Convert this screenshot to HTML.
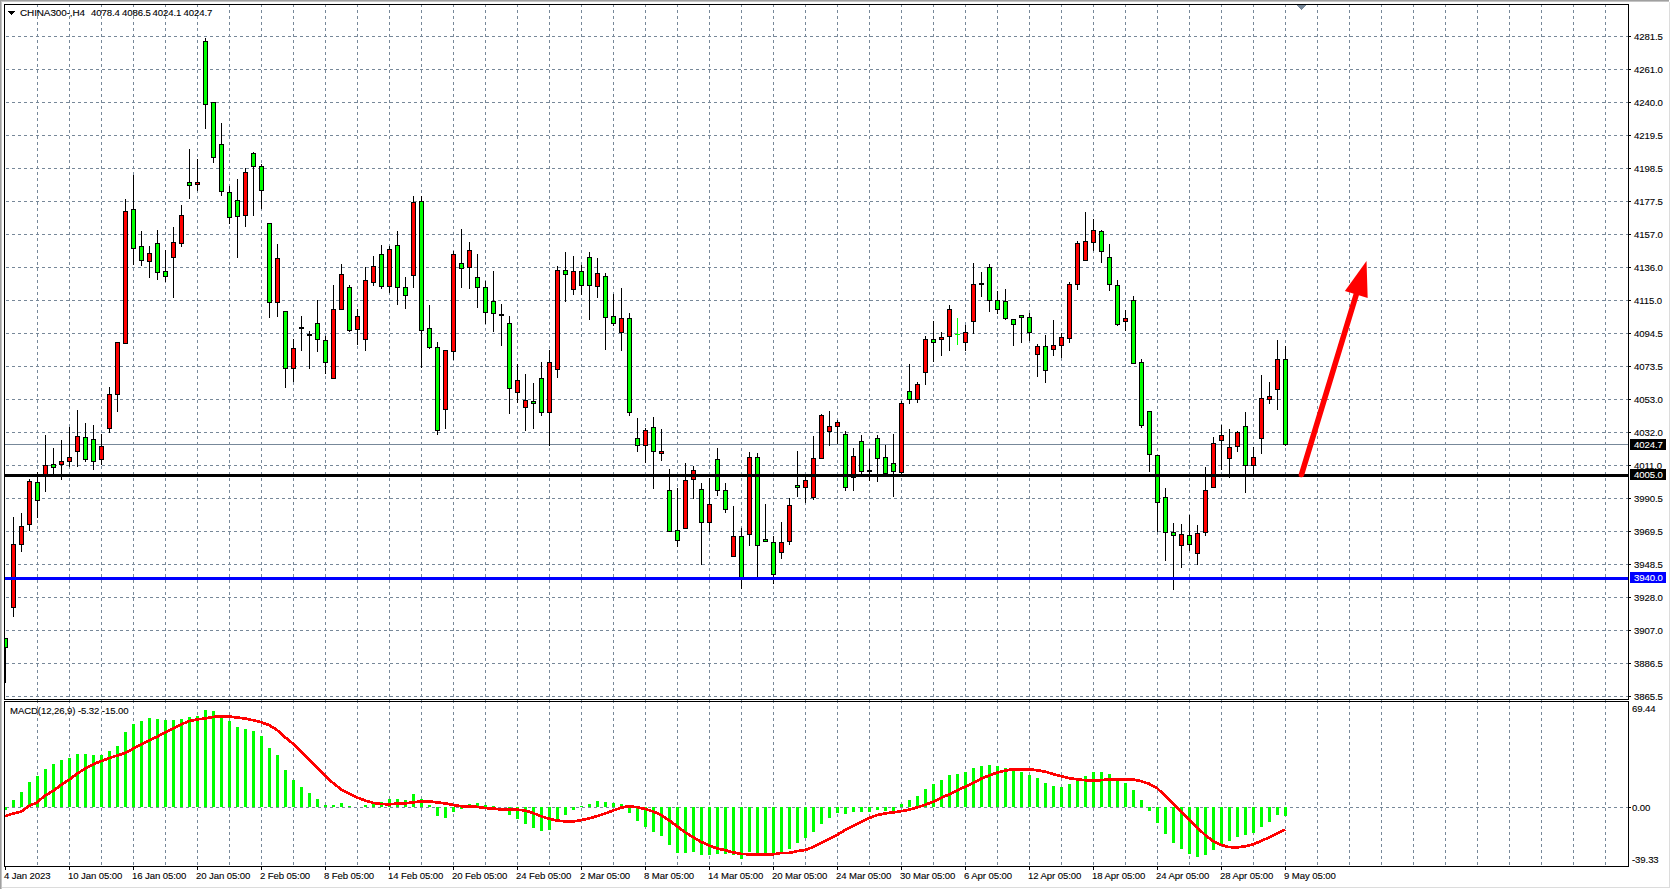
<!DOCTYPE html>
<html><head><meta charset="utf-8"><style>
html,body{margin:0;padding:0;background:#fff;overflow:hidden}
svg{display:block}
text{font-family:"Liberation Sans", sans-serif;}
</style></head><body>
<svg width="1671" height="889" viewBox="0 0 1671 889" shape-rendering="crispEdges">
<rect x="0" y="0" width="1671" height="889" fill="#ffffff"/>
<rect x="0" y="0" width="1669" height="1" fill="#a0a0a0"/>
<rect x="0" y="1" width="1669" height="1" fill="#c4c4c4"/>
<rect x="0" y="0" width="1" height="889" fill="#a0a0a0"/>
<rect x="1" y="1" width="1" height="889" fill="#c4c4c4"/>
<rect x="2" y="887" width="1668" height="1" fill="#dcdcdc"/>
<rect x="1669" y="2" width="1" height="886" fill="#dcdcdc"/>
<path d="M37.5 4V699 M69.5 4V699 M101.5 4V699 M133.5 4V699 M165.5 4V699 M197.5 4V699 M229.5 4V699 M261.5 4V699 M293.5 4V699 M325.5 4V699 M357.5 4V699 M389.5 4V699 M421.5 4V699 M453.5 4V699 M485.5 4V699 M517.5 4V699 M549.5 4V699 M581.5 4V699 M613.5 4V699 M645.5 4V699 M677.5 4V699 M709.5 4V699 M741.5 4V699 M773.5 4V699 M805.5 4V699 M837.5 4V699 M869.5 4V699 M901.5 4V699 M933.5 4V699 M965.5 4V699 M997.5 4V699 M1029.5 4V699 M1061.5 4V699 M1093.5 4V699 M1125.5 4V699 M1157.5 4V699 M1189.5 4V699 M1221.5 4V699 M1253.5 4V699 M1285.5 4V699 M1317.5 4V699 M1349.5 4V699 M1381.5 4V699 M1413.5 4V699 M1445.5 4V699 M1477.5 4V699 M1509.5 4V699 M1541.5 4V699 M1573.5 4V699 M1605.5 4V699" stroke="#778899" stroke-width="1" stroke-dasharray="3 3" fill="none"/>
<path d="M37.5 700V866 M69.5 700V866 M101.5 700V866 M133.5 700V866 M165.5 700V866 M197.5 700V866 M229.5 700V866 M261.5 700V866 M293.5 700V866 M325.5 700V866 M357.5 700V866 M389.5 700V866 M421.5 700V866 M453.5 700V866 M485.5 700V866 M517.5 700V866 M549.5 700V866 M581.5 700V866 M613.5 700V866 M645.5 700V866 M677.5 700V866 M709.5 700V866 M741.5 700V866 M773.5 700V866 M805.5 700V866 M837.5 700V866 M869.5 700V866 M901.5 700V866 M933.5 700V866 M965.5 700V866 M997.5 700V866 M1029.5 700V866 M1061.5 700V866 M1093.5 700V866 M1125.5 700V866 M1157.5 700V866 M1189.5 700V866 M1221.5 700V866 M1253.5 700V866 M1285.5 700V866 M1317.5 700V866 M1349.5 700V866 M1381.5 700V866 M1413.5 700V866 M1445.5 700V866 M1477.5 700V866 M1509.5 700V866 M1541.5 700V866 M1573.5 700V866 M1605.5 700V866" stroke="#778899" stroke-width="1" stroke-dasharray="3 3" stroke-dashoffset="0" fill="none"/>
<path d="M6 36.5H1628 M6 69.5H1628 M6 102.5H1628 M6 135.5H1628 M6 168.5H1628 M6 201.5H1628 M6 234.5H1628 M6 267.5H1628 M6 300.5H1628 M6 333.5H1628 M6 366.5H1628 M6 399.5H1628 M6 432.5H1628 M6 465.5H1628 M6 498.5H1628 M6 531.5H1628 M6 564.5H1628 M6 597.5H1628 M6 630.5H1628 M6 663.5H1628 M6 696.5H1628" stroke="#778899" stroke-width="1" stroke-dasharray="3 3" fill="none"/>
<path d="M8 11H15L11.5 15Z" fill="#000"/>
<text x="20" y="16" fill="#000" stroke="#000" stroke-width="0.1" text-anchor="start" letter-spacing="-0.1" font-size="9.6" textLength="65" lengthAdjust="spacingAndGlyphs">CHINA300-,H4</text>
<text x="91" y="16" fill="#000" stroke="#000" stroke-width="0.1" text-anchor="start" letter-spacing="-0.1" font-size="9.6">4078.4</text>
<text x="122" y="16" fill="#000" stroke="#000" stroke-width="0.1" text-anchor="start" letter-spacing="-0.1" font-size="9.6">4086.5</text>
<text x="152.5" y="16" fill="#000" stroke="#000" stroke-width="0.1" text-anchor="start" letter-spacing="-0.1" font-size="9.6">4024.1</text>
<text x="183.5" y="16" fill="#000" stroke="#000" stroke-width="0.1" text-anchor="start" letter-spacing="-0.1" font-size="9.6">4024.7</text>
<path d="M1297 5H1306L1301.5 10Z" fill="#778899"/>
<rect x="5" y="444" width="1623" height="1" fill="#778899"/>
<defs><clipPath id="ca"><rect x="5" y="5" width="1623" height="694"/></clipPath></defs><g clip-path="url(#ca)">
<rect x="5" y="638" width="1" height="45" fill="#000"/>
<rect x="3" y="638" width="5" height="10" fill="#000"/>
<rect x="4" y="639" width="3" height="8" fill="#00ff00"/>
<rect x="13" y="517" width="1" height="100" fill="#000"/>
<rect x="11" y="544" width="5" height="64" fill="#000"/>
<rect x="12" y="545" width="3" height="62" fill="#ff0000"/>
<rect x="21" y="513" width="1" height="39" fill="#000"/>
<rect x="19" y="526" width="5" height="19" fill="#000"/>
<rect x="20" y="527" width="3" height="17" fill="#ff0000"/>
<rect x="29" y="479" width="1" height="52" fill="#000"/>
<rect x="27" y="481" width="5" height="44" fill="#000"/>
<rect x="28" y="482" width="3" height="42" fill="#ff0000"/>
<rect x="37" y="472" width="1" height="46" fill="#000"/>
<rect x="35" y="482" width="5" height="19" fill="#000"/>
<rect x="36" y="483" width="3" height="17" fill="#00ff00"/>
<rect x="45" y="435" width="1" height="57" fill="#000"/>
<rect x="43" y="465" width="5" height="10" fill="#000"/>
<rect x="44" y="466" width="3" height="8" fill="#ff0000"/>
<rect x="53" y="448" width="1" height="26" fill="#000"/>
<rect x="51" y="464" width="5" height="4" fill="#000"/>
<rect x="52" y="465" width="3" height="2" fill="#00ff00"/>
<rect x="61" y="440" width="1" height="40" fill="#000"/>
<rect x="59" y="461" width="5" height="4" fill="#000"/>
<rect x="60" y="462" width="3" height="2" fill="#ff0000"/>
<rect x="69" y="427" width="1" height="40" fill="#000"/>
<rect x="67" y="457" width="5" height="5" fill="#000"/>
<rect x="68" y="458" width="3" height="3" fill="#ff0000"/>
<rect x="77" y="410" width="1" height="57" fill="#000"/>
<rect x="75" y="436" width="5" height="16" fill="#000"/>
<rect x="76" y="437" width="3" height="14" fill="#ff0000"/>
<rect x="85" y="423" width="1" height="39" fill="#000"/>
<rect x="83" y="437" width="5" height="23" fill="#000"/>
<rect x="84" y="438" width="3" height="21" fill="#00ff00"/>
<rect x="93" y="425" width="1" height="45" fill="#000"/>
<rect x="91" y="439" width="5" height="23" fill="#000"/>
<rect x="92" y="440" width="3" height="21" fill="#00ff00"/>
<rect x="101" y="434" width="1" height="31" fill="#000"/>
<rect x="99" y="446" width="5" height="14" fill="#000"/>
<rect x="100" y="447" width="3" height="12" fill="#ff0000"/>
<rect x="109" y="387" width="1" height="46" fill="#000"/>
<rect x="107" y="394" width="5" height="35" fill="#000"/>
<rect x="108" y="395" width="3" height="33" fill="#ff0000"/>
<rect x="117" y="342" width="1" height="70" fill="#000"/>
<rect x="115" y="342" width="5" height="53" fill="#000"/>
<rect x="116" y="343" width="3" height="51" fill="#ff0000"/>
<rect x="125" y="199" width="1" height="145" fill="#000"/>
<rect x="123" y="211" width="5" height="133" fill="#000"/>
<rect x="124" y="212" width="3" height="131" fill="#ff0000"/>
<rect x="133" y="175" width="1" height="90" fill="#000"/>
<rect x="131" y="209" width="5" height="40" fill="#000"/>
<rect x="132" y="210" width="3" height="38" fill="#00ff00"/>
<rect x="141" y="231" width="1" height="35" fill="#000"/>
<rect x="139" y="246" width="5" height="15" fill="#000"/>
<rect x="140" y="247" width="3" height="13" fill="#00ff00"/>
<rect x="149" y="246" width="1" height="32" fill="#000"/>
<rect x="147" y="253" width="5" height="9" fill="#000"/>
<rect x="148" y="254" width="3" height="7" fill="#ff0000"/>
<rect x="157" y="230" width="1" height="50" fill="#000"/>
<rect x="155" y="243" width="5" height="30" fill="#000"/>
<rect x="156" y="244" width="3" height="28" fill="#00ff00"/>
<rect x="165" y="250" width="1" height="32" fill="#000"/>
<rect x="163" y="271" width="5" height="6" fill="#000"/>
<rect x="164" y="272" width="3" height="4" fill="#00ff00"/>
<rect x="173" y="227" width="1" height="71" fill="#000"/>
<rect x="171" y="242" width="5" height="16" fill="#000"/>
<rect x="172" y="243" width="3" height="14" fill="#ff0000"/>
<rect x="181" y="205" width="1" height="42" fill="#000"/>
<rect x="179" y="215" width="5" height="29" fill="#000"/>
<rect x="180" y="216" width="3" height="27" fill="#ff0000"/>
<rect x="189" y="149" width="1" height="50" fill="#000"/>
<rect x="187" y="182" width="5" height="4" fill="#000"/>
<rect x="188" y="183" width="3" height="2" fill="#00ff00"/>
<rect x="197" y="159" width="1" height="32" fill="#000"/>
<rect x="195" y="182" width="5" height="3" fill="#000"/>
<rect x="196" y="183" width="3" height="1" fill="#ff0000"/>
<rect x="205" y="38" width="1" height="91" fill="#000"/>
<rect x="203" y="41" width="5" height="64" fill="#000"/>
<rect x="204" y="42" width="3" height="62" fill="#00ff00"/>
<rect x="213" y="102" width="1" height="61" fill="#000"/>
<rect x="211" y="102" width="5" height="56" fill="#000"/>
<rect x="212" y="103" width="3" height="54" fill="#00ff00"/>
<rect x="221" y="123" width="1" height="73" fill="#000"/>
<rect x="219" y="144" width="5" height="48" fill="#000"/>
<rect x="220" y="145" width="3" height="46" fill="#00ff00"/>
<rect x="229" y="186" width="1" height="38" fill="#000"/>
<rect x="227" y="192" width="5" height="26" fill="#000"/>
<rect x="228" y="193" width="3" height="24" fill="#00ff00"/>
<rect x="237" y="179" width="1" height="79" fill="#000"/>
<rect x="235" y="200" width="5" height="17" fill="#000"/>
<rect x="236" y="201" width="3" height="15" fill="#00ff00"/>
<rect x="245" y="168" width="1" height="59" fill="#000"/>
<rect x="243" y="172" width="5" height="44" fill="#000"/>
<rect x="244" y="173" width="3" height="42" fill="#ff0000"/>
<rect x="253" y="152" width="1" height="64" fill="#000"/>
<rect x="251" y="153" width="5" height="14" fill="#000"/>
<rect x="252" y="154" width="3" height="12" fill="#00ff00"/>
<rect x="261" y="164" width="1" height="45" fill="#000"/>
<rect x="259" y="166" width="5" height="25" fill="#000"/>
<rect x="260" y="167" width="3" height="23" fill="#00ff00"/>
<rect x="269" y="223" width="1" height="95" fill="#000"/>
<rect x="267" y="223" width="5" height="80" fill="#000"/>
<rect x="268" y="224" width="3" height="78" fill="#00ff00"/>
<rect x="277" y="244" width="1" height="73" fill="#000"/>
<rect x="275" y="258" width="5" height="45" fill="#000"/>
<rect x="276" y="259" width="3" height="43" fill="#ff0000"/>
<rect x="285" y="311" width="1" height="77" fill="#000"/>
<rect x="283" y="311" width="5" height="58" fill="#000"/>
<rect x="284" y="312" width="3" height="56" fill="#00ff00"/>
<rect x="293" y="339" width="1" height="43" fill="#000"/>
<rect x="291" y="348" width="5" height="21" fill="#000"/>
<rect x="292" y="349" width="3" height="19" fill="#ff0000"/>
<rect x="301" y="316" width="1" height="35" fill="#000"/>
<rect x="299" y="327" width="5" height="2" fill="#000"/>
<rect x="309" y="331" width="1" height="38" fill="#000"/>
<rect x="307" y="334" width="5" height="2" fill="#000"/>
<rect x="317" y="300" width="1" height="52" fill="#000"/>
<rect x="315" y="323" width="5" height="17" fill="#000"/>
<rect x="316" y="324" width="3" height="15" fill="#00ff00"/>
<rect x="325" y="336" width="1" height="38" fill="#000"/>
<rect x="323" y="340" width="5" height="23" fill="#000"/>
<rect x="324" y="341" width="3" height="21" fill="#00ff00"/>
<rect x="333" y="285" width="1" height="94" fill="#000"/>
<rect x="331" y="309" width="5" height="70" fill="#000"/>
<rect x="332" y="310" width="3" height="68" fill="#ff0000"/>
<rect x="341" y="264" width="1" height="46" fill="#000"/>
<rect x="339" y="274" width="5" height="36" fill="#000"/>
<rect x="340" y="275" width="3" height="34" fill="#ff0000"/>
<rect x="349" y="285" width="1" height="47" fill="#000"/>
<rect x="347" y="287" width="5" height="44" fill="#000"/>
<rect x="348" y="288" width="3" height="42" fill="#00ff00"/>
<rect x="357" y="309" width="1" height="36" fill="#000"/>
<rect x="355" y="316" width="5" height="14" fill="#000"/>
<rect x="356" y="317" width="3" height="12" fill="#ff0000"/>
<rect x="365" y="267" width="1" height="84" fill="#000"/>
<rect x="363" y="280" width="5" height="60" fill="#000"/>
<rect x="364" y="281" width="3" height="58" fill="#ff0000"/>
<rect x="373" y="256" width="1" height="30" fill="#000"/>
<rect x="371" y="266" width="5" height="17" fill="#000"/>
<rect x="372" y="267" width="3" height="15" fill="#ff0000"/>
<rect x="381" y="245" width="1" height="44" fill="#000"/>
<rect x="379" y="254" width="5" height="33" fill="#000"/>
<rect x="380" y="255" width="3" height="31" fill="#00ff00"/>
<rect x="389" y="246" width="1" height="47" fill="#000"/>
<rect x="387" y="249" width="5" height="38" fill="#000"/>
<rect x="388" y="250" width="3" height="36" fill="#ff0000"/>
<rect x="397" y="231" width="1" height="74" fill="#000"/>
<rect x="395" y="245" width="5" height="43" fill="#000"/>
<rect x="396" y="246" width="3" height="41" fill="#00ff00"/>
<rect x="405" y="277" width="1" height="32" fill="#000"/>
<rect x="403" y="287" width="5" height="9" fill="#000"/>
<rect x="404" y="288" width="3" height="7" fill="#00ff00"/>
<rect x="413" y="196" width="1" height="92" fill="#000"/>
<rect x="411" y="202" width="5" height="74" fill="#000"/>
<rect x="412" y="203" width="3" height="72" fill="#ff0000"/>
<rect x="421" y="196" width="1" height="172" fill="#000"/>
<rect x="419" y="201" width="5" height="130" fill="#000"/>
<rect x="420" y="202" width="3" height="128" fill="#00ff00"/>
<rect x="429" y="305" width="1" height="44" fill="#000"/>
<rect x="427" y="328" width="5" height="20" fill="#000"/>
<rect x="428" y="329" width="3" height="18" fill="#00ff00"/>
<rect x="437" y="342" width="1" height="93" fill="#000"/>
<rect x="435" y="347" width="5" height="84" fill="#000"/>
<rect x="436" y="348" width="3" height="82" fill="#00ff00"/>
<rect x="445" y="350" width="1" height="79" fill="#000"/>
<rect x="443" y="350" width="5" height="60" fill="#000"/>
<rect x="444" y="351" width="3" height="58" fill="#ff0000"/>
<rect x="453" y="251" width="1" height="109" fill="#000"/>
<rect x="451" y="254" width="5" height="98" fill="#000"/>
<rect x="452" y="255" width="3" height="96" fill="#ff0000"/>
<rect x="461" y="229" width="1" height="59" fill="#000"/>
<rect x="459" y="263" width="5" height="6" fill="#000"/>
<rect x="460" y="264" width="3" height="4" fill="#00ff00"/>
<rect x="469" y="242" width="1" height="47" fill="#000"/>
<rect x="467" y="250" width="5" height="18" fill="#000"/>
<rect x="468" y="251" width="3" height="16" fill="#ff0000"/>
<rect x="477" y="254" width="1" height="54" fill="#000"/>
<rect x="475" y="277" width="5" height="11" fill="#000"/>
<rect x="476" y="278" width="3" height="9" fill="#00ff00"/>
<rect x="485" y="281" width="1" height="43" fill="#000"/>
<rect x="483" y="287" width="5" height="26" fill="#000"/>
<rect x="484" y="288" width="3" height="24" fill="#00ff00"/>
<rect x="493" y="271" width="1" height="61" fill="#000"/>
<rect x="491" y="301" width="5" height="13" fill="#000"/>
<rect x="492" y="302" width="3" height="11" fill="#00ff00"/>
<rect x="501" y="304" width="1" height="42" fill="#000"/>
<rect x="499" y="314" width="5" height="2" fill="#000"/>
<rect x="509" y="316" width="1" height="98" fill="#000"/>
<rect x="507" y="323" width="5" height="66" fill="#000"/>
<rect x="508" y="324" width="3" height="64" fill="#00ff00"/>
<rect x="517" y="364" width="1" height="39" fill="#000"/>
<rect x="515" y="380" width="5" height="13" fill="#000"/>
<rect x="516" y="381" width="3" height="11" fill="#ff0000"/>
<rect x="525" y="374" width="1" height="57" fill="#000"/>
<rect x="523" y="400" width="5" height="8" fill="#000"/>
<rect x="524" y="401" width="3" height="6" fill="#ff0000"/>
<rect x="533" y="383" width="1" height="46" fill="#000"/>
<rect x="531" y="401" width="5" height="3" fill="#000"/>
<rect x="532" y="402" width="3" height="1" fill="#00ff00"/>
<rect x="541" y="362" width="1" height="54" fill="#000"/>
<rect x="539" y="378" width="5" height="35" fill="#000"/>
<rect x="540" y="379" width="3" height="33" fill="#00ff00"/>
<rect x="549" y="350" width="1" height="96" fill="#000"/>
<rect x="547" y="362" width="5" height="51" fill="#000"/>
<rect x="548" y="363" width="3" height="49" fill="#ff0000"/>
<rect x="557" y="266" width="1" height="112" fill="#000"/>
<rect x="555" y="270" width="5" height="100" fill="#000"/>
<rect x="556" y="271" width="3" height="98" fill="#ff0000"/>
<rect x="565" y="252" width="1" height="50" fill="#000"/>
<rect x="563" y="270" width="5" height="5" fill="#000"/>
<rect x="564" y="271" width="3" height="3" fill="#00ff00"/>
<rect x="573" y="256" width="1" height="39" fill="#000"/>
<rect x="571" y="271" width="5" height="19" fill="#000"/>
<rect x="572" y="272" width="3" height="17" fill="#ff0000"/>
<rect x="581" y="265" width="1" height="30" fill="#000"/>
<rect x="579" y="271" width="5" height="15" fill="#000"/>
<rect x="580" y="272" width="3" height="13" fill="#00ff00"/>
<rect x="589" y="252" width="1" height="68" fill="#000"/>
<rect x="587" y="257" width="5" height="29" fill="#000"/>
<rect x="588" y="258" width="3" height="27" fill="#00ff00"/>
<rect x="597" y="258" width="1" height="40" fill="#000"/>
<rect x="595" y="273" width="5" height="14" fill="#000"/>
<rect x="596" y="274" width="3" height="12" fill="#ff0000"/>
<rect x="605" y="273" width="1" height="77" fill="#000"/>
<rect x="603" y="276" width="5" height="42" fill="#000"/>
<rect x="604" y="277" width="3" height="40" fill="#00ff00"/>
<rect x="613" y="294" width="1" height="32" fill="#000"/>
<rect x="611" y="316" width="5" height="8" fill="#000"/>
<rect x="612" y="317" width="3" height="6" fill="#00ff00"/>
<rect x="621" y="288" width="1" height="63" fill="#000"/>
<rect x="619" y="318" width="5" height="15" fill="#000"/>
<rect x="620" y="319" width="3" height="13" fill="#ff0000"/>
<rect x="629" y="313" width="1" height="103" fill="#000"/>
<rect x="627" y="318" width="5" height="95" fill="#000"/>
<rect x="628" y="319" width="3" height="93" fill="#00ff00"/>
<rect x="637" y="418" width="1" height="34" fill="#000"/>
<rect x="635" y="438" width="5" height="8" fill="#000"/>
<rect x="636" y="439" width="3" height="6" fill="#00ff00"/>
<rect x="645" y="428" width="1" height="35" fill="#000"/>
<rect x="643" y="430" width="5" height="16" fill="#000"/>
<rect x="644" y="431" width="3" height="14" fill="#ff0000"/>
<rect x="653" y="417" width="1" height="72" fill="#000"/>
<rect x="651" y="427" width="5" height="25" fill="#000"/>
<rect x="652" y="428" width="3" height="23" fill="#00ff00"/>
<rect x="661" y="429" width="1" height="32" fill="#000"/>
<rect x="659" y="451" width="5" height="3" fill="#000"/>
<rect x="660" y="452" width="3" height="1" fill="#ff0000"/>
<rect x="669" y="469" width="1" height="63" fill="#000"/>
<rect x="667" y="490" width="5" height="42" fill="#000"/>
<rect x="668" y="491" width="3" height="40" fill="#00ff00"/>
<rect x="677" y="488" width="1" height="59" fill="#000"/>
<rect x="675" y="530" width="5" height="11" fill="#000"/>
<rect x="676" y="531" width="3" height="9" fill="#00ff00"/>
<rect x="685" y="463" width="1" height="66" fill="#000"/>
<rect x="683" y="480" width="5" height="49" fill="#000"/>
<rect x="684" y="481" width="3" height="47" fill="#ff0000"/>
<rect x="693" y="466" width="1" height="33" fill="#000"/>
<rect x="691" y="470" width="5" height="10" fill="#000"/>
<rect x="692" y="471" width="3" height="8" fill="#ff0000"/>
<rect x="701" y="483" width="1" height="82" fill="#000"/>
<rect x="699" y="489" width="5" height="34" fill="#000"/>
<rect x="700" y="490" width="3" height="32" fill="#00ff00"/>
<rect x="709" y="478" width="1" height="54" fill="#000"/>
<rect x="707" y="504" width="5" height="19" fill="#000"/>
<rect x="708" y="505" width="3" height="17" fill="#ff0000"/>
<rect x="717" y="448" width="1" height="48" fill="#000"/>
<rect x="715" y="459" width="5" height="32" fill="#000"/>
<rect x="716" y="460" width="3" height="30" fill="#00ff00"/>
<rect x="725" y="483" width="1" height="30" fill="#000"/>
<rect x="723" y="490" width="5" height="20" fill="#000"/>
<rect x="724" y="491" width="3" height="18" fill="#00ff00"/>
<rect x="733" y="506" width="1" height="51" fill="#000"/>
<rect x="731" y="536" width="5" height="21" fill="#000"/>
<rect x="732" y="537" width="3" height="19" fill="#ff0000"/>
<rect x="741" y="528" width="1" height="61" fill="#000"/>
<rect x="739" y="536" width="5" height="42" fill="#000"/>
<rect x="740" y="537" width="3" height="40" fill="#00ff00"/>
<rect x="749" y="452" width="1" height="94" fill="#000"/>
<rect x="747" y="457" width="5" height="78" fill="#000"/>
<rect x="748" y="458" width="3" height="76" fill="#ff0000"/>
<rect x="757" y="453" width="1" height="125" fill="#000"/>
<rect x="755" y="457" width="5" height="89" fill="#000"/>
<rect x="756" y="458" width="3" height="87" fill="#00ff00"/>
<rect x="765" y="504" width="1" height="38" fill="#000"/>
<rect x="763" y="539" width="5" height="3" fill="#000"/>
<rect x="764" y="540" width="3" height="1" fill="#00ff00"/>
<rect x="773" y="536" width="1" height="48" fill="#000"/>
<rect x="771" y="542" width="5" height="33" fill="#000"/>
<rect x="772" y="543" width="3" height="31" fill="#00ff00"/>
<rect x="781" y="522" width="1" height="37" fill="#000"/>
<rect x="779" y="542" width="5" height="11" fill="#000"/>
<rect x="780" y="543" width="3" height="9" fill="#ff0000"/>
<rect x="789" y="498" width="1" height="47" fill="#000"/>
<rect x="787" y="505" width="5" height="37" fill="#000"/>
<rect x="788" y="506" width="3" height="35" fill="#ff0000"/>
<rect x="797" y="451" width="1" height="46" fill="#000"/>
<rect x="795" y="485" width="5" height="3" fill="#000"/>
<rect x="796" y="486" width="3" height="1" fill="#00ff00"/>
<rect x="805" y="475" width="1" height="28" fill="#000"/>
<rect x="803" y="480" width="5" height="8" fill="#000"/>
<rect x="804" y="481" width="3" height="6" fill="#ff0000"/>
<rect x="813" y="436" width="1" height="64" fill="#000"/>
<rect x="811" y="458" width="5" height="40" fill="#000"/>
<rect x="812" y="459" width="3" height="38" fill="#ff0000"/>
<rect x="821" y="414" width="1" height="45" fill="#000"/>
<rect x="819" y="415" width="5" height="44" fill="#000"/>
<rect x="820" y="416" width="3" height="42" fill="#ff0000"/>
<rect x="829" y="411" width="1" height="35" fill="#000"/>
<rect x="827" y="426" width="5" height="6" fill="#000"/>
<rect x="828" y="427" width="3" height="4" fill="#ff0000"/>
<rect x="837" y="420" width="1" height="24" fill="#000"/>
<rect x="835" y="422" width="5" height="5" fill="#000"/>
<rect x="836" y="423" width="3" height="3" fill="#ff0000"/>
<rect x="845" y="431" width="1" height="60" fill="#000"/>
<rect x="843" y="434" width="5" height="54" fill="#000"/>
<rect x="844" y="435" width="3" height="52" fill="#00ff00"/>
<rect x="853" y="448" width="1" height="43" fill="#000"/>
<rect x="851" y="456" width="5" height="22" fill="#000"/>
<rect x="852" y="457" width="3" height="20" fill="#ff0000"/>
<rect x="861" y="435" width="1" height="40" fill="#000"/>
<rect x="859" y="441" width="5" height="31" fill="#000"/>
<rect x="860" y="442" width="3" height="29" fill="#00ff00"/>
<rect x="869" y="449" width="1" height="32" fill="#000"/>
<rect x="867" y="470" width="5" height="2" fill="#000"/>
<rect x="877" y="435" width="1" height="47" fill="#000"/>
<rect x="875" y="438" width="5" height="21" fill="#000"/>
<rect x="876" y="439" width="3" height="19" fill="#00ff00"/>
<rect x="885" y="445" width="1" height="30" fill="#000"/>
<rect x="883" y="457" width="5" height="17" fill="#000"/>
<rect x="884" y="458" width="3" height="15" fill="#00ff00"/>
<rect x="893" y="434" width="1" height="63" fill="#000"/>
<rect x="891" y="463" width="5" height="9" fill="#000"/>
<rect x="892" y="464" width="3" height="7" fill="#00ff00"/>
<rect x="901" y="401" width="1" height="73" fill="#000"/>
<rect x="899" y="403" width="5" height="70" fill="#000"/>
<rect x="900" y="404" width="3" height="68" fill="#ff0000"/>
<rect x="909" y="364" width="1" height="40" fill="#000"/>
<rect x="907" y="391" width="5" height="9" fill="#000"/>
<rect x="908" y="392" width="3" height="7" fill="#00ff00"/>
<rect x="917" y="382" width="1" height="21" fill="#000"/>
<rect x="915" y="384" width="5" height="16" fill="#000"/>
<rect x="916" y="385" width="3" height="14" fill="#ff0000"/>
<rect x="925" y="336" width="1" height="49" fill="#000"/>
<rect x="923" y="339" width="5" height="34" fill="#000"/>
<rect x="924" y="340" width="3" height="32" fill="#ff0000"/>
<rect x="933" y="321" width="1" height="41" fill="#000"/>
<rect x="931" y="339" width="5" height="4" fill="#000"/>
<rect x="932" y="340" width="3" height="2" fill="#00ff00"/>
<rect x="941" y="332" width="1" height="24" fill="#000"/>
<rect x="939" y="337" width="5" height="3" fill="#000"/>
<rect x="940" y="338" width="3" height="1" fill="#ff0000"/>
<rect x="949" y="305" width="1" height="46" fill="#000"/>
<rect x="947" y="309" width="5" height="28" fill="#000"/>
<rect x="948" y="310" width="3" height="26" fill="#ff0000"/>
<rect x="957" y="318" width="1" height="27" fill="#00ff00"/>
<rect x="955" y="334" width="5" height="1" fill="#00ff00"/>
<rect x="965" y="325" width="1" height="26" fill="#000"/>
<rect x="963" y="332" width="5" height="11" fill="#000"/>
<rect x="964" y="333" width="3" height="9" fill="#ff0000"/>
<rect x="973" y="263" width="1" height="71" fill="#000"/>
<rect x="971" y="284" width="5" height="38" fill="#000"/>
<rect x="972" y="285" width="3" height="36" fill="#ff0000"/>
<rect x="981" y="272" width="1" height="25" fill="#000"/>
<rect x="979" y="283" width="5" height="2" fill="#000"/>
<rect x="989" y="264" width="1" height="48" fill="#000"/>
<rect x="987" y="267" width="5" height="34" fill="#000"/>
<rect x="988" y="268" width="3" height="32" fill="#00ff00"/>
<rect x="997" y="291" width="1" height="23" fill="#000"/>
<rect x="995" y="300" width="5" height="10" fill="#000"/>
<rect x="996" y="301" width="3" height="8" fill="#00ff00"/>
<rect x="1005" y="289" width="1" height="31" fill="#000"/>
<rect x="1003" y="301" width="5" height="18" fill="#000"/>
<rect x="1004" y="302" width="3" height="16" fill="#00ff00"/>
<rect x="1013" y="319" width="1" height="27" fill="#000"/>
<rect x="1011" y="319" width="5" height="6" fill="#000"/>
<rect x="1012" y="320" width="3" height="4" fill="#00ff00"/>
<rect x="1021" y="315" width="1" height="28" fill="#000"/>
<rect x="1019" y="315" width="5" height="3" fill="#000"/>
<rect x="1020" y="316" width="3" height="1" fill="#00ff00"/>
<rect x="1029" y="313" width="1" height="28" fill="#000"/>
<rect x="1027" y="317" width="5" height="16" fill="#000"/>
<rect x="1028" y="318" width="3" height="14" fill="#00ff00"/>
<rect x="1037" y="344" width="1" height="33" fill="#000"/>
<rect x="1035" y="346" width="5" height="9" fill="#000"/>
<rect x="1036" y="347" width="3" height="7" fill="#ff0000"/>
<rect x="1045" y="335" width="1" height="48" fill="#000"/>
<rect x="1043" y="346" width="5" height="25" fill="#000"/>
<rect x="1044" y="347" width="3" height="23" fill="#00ff00"/>
<rect x="1053" y="320" width="1" height="36" fill="#000"/>
<rect x="1051" y="345" width="5" height="5" fill="#000"/>
<rect x="1052" y="346" width="3" height="3" fill="#ff0000"/>
<rect x="1061" y="333" width="1" height="25" fill="#000"/>
<rect x="1059" y="337" width="5" height="9" fill="#000"/>
<rect x="1060" y="338" width="3" height="7" fill="#ff0000"/>
<rect x="1069" y="282" width="1" height="61" fill="#000"/>
<rect x="1067" y="284" width="5" height="55" fill="#000"/>
<rect x="1068" y="285" width="3" height="53" fill="#ff0000"/>
<rect x="1077" y="241" width="1" height="49" fill="#000"/>
<rect x="1075" y="243" width="5" height="42" fill="#000"/>
<rect x="1076" y="244" width="3" height="40" fill="#ff0000"/>
<rect x="1085" y="212" width="1" height="49" fill="#000"/>
<rect x="1083" y="241" width="5" height="20" fill="#000"/>
<rect x="1084" y="242" width="3" height="18" fill="#ff0000"/>
<rect x="1093" y="219" width="1" height="32" fill="#000"/>
<rect x="1091" y="230" width="5" height="13" fill="#000"/>
<rect x="1092" y="231" width="3" height="11" fill="#ff0000"/>
<rect x="1101" y="230" width="1" height="33" fill="#000"/>
<rect x="1099" y="231" width="5" height="21" fill="#000"/>
<rect x="1100" y="232" width="3" height="19" fill="#00ff00"/>
<rect x="1109" y="244" width="1" height="47" fill="#000"/>
<rect x="1107" y="257" width="5" height="28" fill="#000"/>
<rect x="1108" y="258" width="3" height="26" fill="#00ff00"/>
<rect x="1117" y="280" width="1" height="46" fill="#000"/>
<rect x="1115" y="285" width="5" height="40" fill="#000"/>
<rect x="1116" y="286" width="3" height="38" fill="#00ff00"/>
<rect x="1125" y="310" width="1" height="21" fill="#000"/>
<rect x="1123" y="318" width="5" height="4" fill="#000"/>
<rect x="1124" y="319" width="3" height="2" fill="#ff0000"/>
<rect x="1133" y="296" width="1" height="68" fill="#000"/>
<rect x="1131" y="300" width="5" height="64" fill="#000"/>
<rect x="1132" y="301" width="3" height="62" fill="#00ff00"/>
<rect x="1141" y="359" width="1" height="69" fill="#000"/>
<rect x="1139" y="362" width="5" height="64" fill="#000"/>
<rect x="1140" y="363" width="3" height="62" fill="#00ff00"/>
<rect x="1149" y="411" width="1" height="61" fill="#000"/>
<rect x="1147" y="411" width="5" height="44" fill="#000"/>
<rect x="1148" y="412" width="3" height="42" fill="#00ff00"/>
<rect x="1157" y="455" width="1" height="77" fill="#000"/>
<rect x="1155" y="455" width="5" height="48" fill="#000"/>
<rect x="1156" y="456" width="3" height="46" fill="#00ff00"/>
<rect x="1165" y="488" width="1" height="73" fill="#000"/>
<rect x="1163" y="497" width="5" height="36" fill="#000"/>
<rect x="1164" y="498" width="3" height="34" fill="#00ff00"/>
<rect x="1173" y="523" width="1" height="67" fill="#000"/>
<rect x="1171" y="532" width="5" height="4" fill="#000"/>
<rect x="1172" y="533" width="3" height="2" fill="#00ff00"/>
<rect x="1181" y="524" width="1" height="44" fill="#000"/>
<rect x="1179" y="534" width="5" height="12" fill="#000"/>
<rect x="1180" y="535" width="3" height="10" fill="#ff0000"/>
<rect x="1189" y="515" width="1" height="36" fill="#000"/>
<rect x="1187" y="535" width="5" height="10" fill="#000"/>
<rect x="1188" y="536" width="3" height="8" fill="#00ff00"/>
<rect x="1197" y="525" width="1" height="40" fill="#000"/>
<rect x="1195" y="533" width="5" height="21" fill="#000"/>
<rect x="1196" y="534" width="3" height="19" fill="#ff0000"/>
<rect x="1205" y="467" width="1" height="69" fill="#000"/>
<rect x="1203" y="490" width="5" height="43" fill="#000"/>
<rect x="1204" y="491" width="3" height="41" fill="#ff0000"/>
<rect x="1213" y="437" width="1" height="51" fill="#000"/>
<rect x="1211" y="443" width="5" height="45" fill="#000"/>
<rect x="1212" y="444" width="3" height="43" fill="#ff0000"/>
<rect x="1221" y="425" width="1" height="45" fill="#000"/>
<rect x="1219" y="435" width="5" height="6" fill="#000"/>
<rect x="1220" y="436" width="3" height="4" fill="#ff0000"/>
<rect x="1229" y="429" width="1" height="49" fill="#000"/>
<rect x="1227" y="447" width="5" height="12" fill="#000"/>
<rect x="1228" y="448" width="3" height="10" fill="#ff0000"/>
<rect x="1237" y="431" width="1" height="21" fill="#000"/>
<rect x="1235" y="432" width="5" height="15" fill="#000"/>
<rect x="1236" y="433" width="3" height="13" fill="#ff0000"/>
<rect x="1245" y="412" width="1" height="81" fill="#000"/>
<rect x="1243" y="426" width="5" height="40" fill="#000"/>
<rect x="1244" y="427" width="3" height="38" fill="#00ff00"/>
<rect x="1253" y="447" width="1" height="28" fill="#000"/>
<rect x="1251" y="457" width="5" height="9" fill="#000"/>
<rect x="1252" y="458" width="3" height="7" fill="#ff0000"/>
<rect x="1261" y="375" width="1" height="79" fill="#000"/>
<rect x="1259" y="398" width="5" height="41" fill="#000"/>
<rect x="1260" y="399" width="3" height="39" fill="#ff0000"/>
<rect x="1269" y="382" width="1" height="22" fill="#000"/>
<rect x="1267" y="396" width="5" height="4" fill="#000"/>
<rect x="1268" y="397" width="3" height="2" fill="#ff0000"/>
<rect x="1277" y="340" width="1" height="70" fill="#000"/>
<rect x="1275" y="359" width="5" height="31" fill="#000"/>
<rect x="1276" y="360" width="3" height="29" fill="#ff0000"/>
<rect x="1285" y="346" width="1" height="100" fill="#000"/>
<rect x="1283" y="359" width="5" height="86" fill="#000"/>
<rect x="1284" y="360" width="3" height="84" fill="#00ff00"/>
</g>
<rect x="5" y="474" width="1623" height="3" fill="#000"/>
<rect x="5" y="577" width="1623" height="3" fill="#0000ff"/>
<line x1="1301.5" y1="474.5" x2="1357" y2="292" stroke="#ff0000" stroke-width="5.6" stroke-linecap="round" shape-rendering="geometricPrecision"/>
<path d="M1366.5 261L1344.9 291L1367.7 298Z" fill="#ff0000" shape-rendering="geometricPrecision"/>
<rect x="4" y="4" width="1625" height="1" fill="#000"/>
<rect x="4" y="4" width="1" height="696" fill="#000"/>
<rect x="4" y="699" width="1625" height="1" fill="#000"/>
<rect x="1628" y="4" width="1" height="696" fill="#000"/>
<rect x="4" y="701" width="1625" height="1" fill="#000"/>
<rect x="4" y="701" width="1" height="166" fill="#000"/>
<rect x="4" y="866" width="1625" height="1" fill="#000"/>
<rect x="1628" y="701" width="1" height="166" fill="#000"/>
<rect x="1629" y="36" width="2" height="1" fill="#000"/>
<text x="1634" y="40" fill="#000" stroke="#000" stroke-width="0.1" text-anchor="start" letter-spacing="-0.1" font-size="9.6">4281.5</text>
<rect x="1629" y="69" width="2" height="1" fill="#000"/>
<text x="1634" y="73" fill="#000" stroke="#000" stroke-width="0.1" text-anchor="start" letter-spacing="-0.1" font-size="9.6">4261.0</text>
<rect x="1629" y="102" width="2" height="1" fill="#000"/>
<text x="1634" y="106" fill="#000" stroke="#000" stroke-width="0.1" text-anchor="start" letter-spacing="-0.1" font-size="9.6">4240.0</text>
<rect x="1629" y="135" width="2" height="1" fill="#000"/>
<text x="1634" y="139" fill="#000" stroke="#000" stroke-width="0.1" text-anchor="start" letter-spacing="-0.1" font-size="9.6">4219.5</text>
<rect x="1629" y="168" width="2" height="1" fill="#000"/>
<text x="1634" y="172" fill="#000" stroke="#000" stroke-width="0.1" text-anchor="start" letter-spacing="-0.1" font-size="9.6">4198.5</text>
<rect x="1629" y="201" width="2" height="1" fill="#000"/>
<text x="1634" y="205" fill="#000" stroke="#000" stroke-width="0.1" text-anchor="start" letter-spacing="-0.1" font-size="9.6">4177.5</text>
<rect x="1629" y="234" width="2" height="1" fill="#000"/>
<text x="1634" y="238" fill="#000" stroke="#000" stroke-width="0.1" text-anchor="start" letter-spacing="-0.1" font-size="9.6">4157.0</text>
<rect x="1629" y="267" width="2" height="1" fill="#000"/>
<text x="1634" y="271" fill="#000" stroke="#000" stroke-width="0.1" text-anchor="start" letter-spacing="-0.1" font-size="9.6">4136.0</text>
<rect x="1629" y="300" width="2" height="1" fill="#000"/>
<text x="1634" y="304" fill="#000" stroke="#000" stroke-width="0.1" text-anchor="start" letter-spacing="-0.1" font-size="9.6">4115.0</text>
<rect x="1629" y="333" width="2" height="1" fill="#000"/>
<text x="1634" y="337" fill="#000" stroke="#000" stroke-width="0.1" text-anchor="start" letter-spacing="-0.1" font-size="9.6">4094.5</text>
<rect x="1629" y="366" width="2" height="1" fill="#000"/>
<text x="1634" y="370" fill="#000" stroke="#000" stroke-width="0.1" text-anchor="start" letter-spacing="-0.1" font-size="9.6">4073.5</text>
<rect x="1629" y="399" width="2" height="1" fill="#000"/>
<text x="1634" y="403" fill="#000" stroke="#000" stroke-width="0.1" text-anchor="start" letter-spacing="-0.1" font-size="9.6">4053.0</text>
<rect x="1629" y="432" width="2" height="1" fill="#000"/>
<text x="1634" y="436" fill="#000" stroke="#000" stroke-width="0.1" text-anchor="start" letter-spacing="-0.1" font-size="9.6">4032.0</text>
<rect x="1629" y="465" width="2" height="1" fill="#000"/>
<text x="1634" y="469" fill="#000" stroke="#000" stroke-width="0.1" text-anchor="start" letter-spacing="-0.1" font-size="9.6">4011.0</text>
<rect x="1629" y="498" width="2" height="1" fill="#000"/>
<text x="1634" y="502" fill="#000" stroke="#000" stroke-width="0.1" text-anchor="start" letter-spacing="-0.1" font-size="9.6">3990.5</text>
<rect x="1629" y="531" width="2" height="1" fill="#000"/>
<text x="1634" y="535" fill="#000" stroke="#000" stroke-width="0.1" text-anchor="start" letter-spacing="-0.1" font-size="9.6">3969.5</text>
<rect x="1629" y="564" width="2" height="1" fill="#000"/>
<text x="1634" y="568" fill="#000" stroke="#000" stroke-width="0.1" text-anchor="start" letter-spacing="-0.1" font-size="9.6">3948.5</text>
<rect x="1629" y="597" width="2" height="1" fill="#000"/>
<text x="1634" y="601" fill="#000" stroke="#000" stroke-width="0.1" text-anchor="start" letter-spacing="-0.1" font-size="9.6">3928.0</text>
<rect x="1629" y="630" width="2" height="1" fill="#000"/>
<text x="1634" y="634" fill="#000" stroke="#000" stroke-width="0.1" text-anchor="start" letter-spacing="-0.1" font-size="9.6">3907.0</text>
<rect x="1629" y="663" width="2" height="1" fill="#000"/>
<text x="1634" y="667" fill="#000" stroke="#000" stroke-width="0.1" text-anchor="start" letter-spacing="-0.1" font-size="9.6">3886.5</text>
<rect x="1629" y="696" width="2" height="1" fill="#000"/>
<text x="1634" y="700" fill="#000" stroke="#000" stroke-width="0.1" text-anchor="start" letter-spacing="-0.1" font-size="9.6">3865.5</text>
<rect x="1630" y="439" width="36" height="11" fill="#000"/>
<text x="1634" y="448" fill="#fff" stroke="#fff" stroke-width="0.1" text-anchor="start" letter-spacing="-0.1" font-size="9.6">4024.7</text>
<rect x="1630" y="469" width="36" height="11" fill="#000"/>
<text x="1634" y="478" fill="#fff" stroke="#fff" stroke-width="0.1" text-anchor="start" letter-spacing="-0.1" font-size="9.6">4005.0</text>
<rect x="1630" y="572" width="36" height="11" fill="#0000ff"/>
<text x="1634" y="581" fill="#fff" stroke="#fff" stroke-width="0.1" text-anchor="start" letter-spacing="-0.1" font-size="9.6">3940.0</text>
<path d="M6 807.5H1628" stroke="#778899" stroke-width="1" stroke-dasharray="3 3" fill="none"/>
<rect x="4" y="807" width="3" height="3" fill="#00ff00"/>
<rect x="12" y="800" width="3" height="7" fill="#00ff00"/>
<rect x="20" y="792" width="3" height="15" fill="#00ff00"/>
<rect x="28" y="782" width="3" height="25" fill="#00ff00"/>
<rect x="36" y="776" width="3" height="31" fill="#00ff00"/>
<rect x="44" y="769" width="3" height="38" fill="#00ff00"/>
<rect x="52" y="764" width="3" height="43" fill="#00ff00"/>
<rect x="60" y="760" width="3" height="47" fill="#00ff00"/>
<rect x="68" y="758" width="3" height="49" fill="#00ff00"/>
<rect x="76" y="754" width="3" height="53" fill="#00ff00"/>
<rect x="84" y="754" width="3" height="53" fill="#00ff00"/>
<rect x="92" y="755" width="3" height="52" fill="#00ff00"/>
<rect x="100" y="755" width="3" height="52" fill="#00ff00"/>
<rect x="108" y="751" width="3" height="56" fill="#00ff00"/>
<rect x="116" y="746" width="3" height="61" fill="#00ff00"/>
<rect x="124" y="732" width="3" height="75" fill="#00ff00"/>
<rect x="132" y="724" width="3" height="83" fill="#00ff00"/>
<rect x="140" y="721" width="3" height="86" fill="#00ff00"/>
<rect x="148" y="718" width="3" height="89" fill="#00ff00"/>
<rect x="156" y="719" width="3" height="88" fill="#00ff00"/>
<rect x="164" y="720" width="3" height="87" fill="#00ff00"/>
<rect x="172" y="720" width="3" height="87" fill="#00ff00"/>
<rect x="180" y="719" width="3" height="88" fill="#00ff00"/>
<rect x="188" y="717" width="3" height="90" fill="#00ff00"/>
<rect x="196" y="716" width="3" height="91" fill="#00ff00"/>
<rect x="204" y="710" width="3" height="97" fill="#00ff00"/>
<rect x="212" y="711" width="3" height="96" fill="#00ff00"/>
<rect x="220" y="718" width="3" height="89" fill="#00ff00"/>
<rect x="228" y="721" width="3" height="86" fill="#00ff00"/>
<rect x="236" y="727" width="3" height="80" fill="#00ff00"/>
<rect x="244" y="729" width="3" height="78" fill="#00ff00"/>
<rect x="252" y="731" width="3" height="76" fill="#00ff00"/>
<rect x="260" y="736" width="3" height="71" fill="#00ff00"/>
<rect x="268" y="748" width="3" height="59" fill="#00ff00"/>
<rect x="276" y="755" width="3" height="52" fill="#00ff00"/>
<rect x="284" y="770" width="3" height="37" fill="#00ff00"/>
<rect x="292" y="780" width="3" height="27" fill="#00ff00"/>
<rect x="300" y="787" width="3" height="20" fill="#00ff00"/>
<rect x="308" y="793" width="3" height="14" fill="#00ff00"/>
<rect x="316" y="799" width="3" height="8" fill="#00ff00"/>
<rect x="324" y="805" width="3" height="2" fill="#00ff00"/>
<rect x="332" y="805" width="3" height="2" fill="#00ff00"/>
<rect x="340" y="803" width="3" height="4" fill="#00ff00"/>
<rect x="348" y="806" width="3" height="1" fill="#00ff00"/>
<rect x="364" y="805" width="3" height="2" fill="#00ff00"/>
<rect x="372" y="804" width="3" height="3" fill="#00ff00"/>
<rect x="380" y="802" width="3" height="5" fill="#00ff00"/>
<rect x="388" y="799" width="3" height="8" fill="#00ff00"/>
<rect x="396" y="799" width="3" height="8" fill="#00ff00"/>
<rect x="404" y="800" width="3" height="7" fill="#00ff00"/>
<rect x="412" y="794" width="3" height="13" fill="#00ff00"/>
<rect x="420" y="799" width="3" height="8" fill="#00ff00"/>
<rect x="428" y="805" width="3" height="2" fill="#00ff00"/>
<rect x="436" y="807" width="3" height="9" fill="#00ff00"/>
<rect x="444" y="807" width="3" height="11" fill="#00ff00"/>
<rect x="452" y="807" width="3" height="5" fill="#00ff00"/>
<rect x="460" y="807" width="3" height="2" fill="#00ff00"/>
<rect x="468" y="804" width="3" height="3" fill="#00ff00"/>
<rect x="476" y="803" width="3" height="4" fill="#00ff00"/>
<rect x="484" y="805" width="3" height="2" fill="#00ff00"/>
<rect x="492" y="806" width="3" height="1" fill="#00ff00"/>
<rect x="508" y="807" width="3" height="8" fill="#00ff00"/>
<rect x="516" y="807" width="3" height="12" fill="#00ff00"/>
<rect x="524" y="807" width="3" height="17" fill="#00ff00"/>
<rect x="532" y="807" width="3" height="21" fill="#00ff00"/>
<rect x="540" y="807" width="3" height="24" fill="#00ff00"/>
<rect x="548" y="807" width="3" height="23" fill="#00ff00"/>
<rect x="556" y="807" width="3" height="12" fill="#00ff00"/>
<rect x="564" y="807" width="3" height="8" fill="#00ff00"/>
<rect x="572" y="807" width="3" height="3" fill="#00ff00"/>
<rect x="580" y="806" width="3" height="1" fill="#00ff00"/>
<rect x="588" y="804" width="3" height="3" fill="#00ff00"/>
<rect x="596" y="801" width="3" height="6" fill="#00ff00"/>
<rect x="604" y="802" width="3" height="5" fill="#00ff00"/>
<rect x="612" y="803" width="3" height="4" fill="#00ff00"/>
<rect x="620" y="804" width="3" height="3" fill="#00ff00"/>
<rect x="628" y="807" width="3" height="6" fill="#00ff00"/>
<rect x="636" y="807" width="3" height="14" fill="#00ff00"/>
<rect x="644" y="807" width="3" height="20" fill="#00ff00"/>
<rect x="652" y="807" width="3" height="25" fill="#00ff00"/>
<rect x="660" y="807" width="3" height="29" fill="#00ff00"/>
<rect x="668" y="807" width="3" height="38" fill="#00ff00"/>
<rect x="676" y="807" width="3" height="46" fill="#00ff00"/>
<rect x="684" y="807" width="3" height="46" fill="#00ff00"/>
<rect x="692" y="807" width="3" height="45" fill="#00ff00"/>
<rect x="700" y="807" width="3" height="48" fill="#00ff00"/>
<rect x="708" y="807" width="3" height="48" fill="#00ff00"/>
<rect x="716" y="807" width="3" height="47" fill="#00ff00"/>
<rect x="724" y="807" width="3" height="47" fill="#00ff00"/>
<rect x="732" y="807" width="3" height="48" fill="#00ff00"/>
<rect x="740" y="807" width="3" height="52" fill="#00ff00"/>
<rect x="748" y="807" width="3" height="45" fill="#00ff00"/>
<rect x="756" y="807" width="3" height="46" fill="#00ff00"/>
<rect x="764" y="807" width="3" height="46" fill="#00ff00"/>
<rect x="772" y="807" width="3" height="46" fill="#00ff00"/>
<rect x="780" y="807" width="3" height="45" fill="#00ff00"/>
<rect x="788" y="807" width="3" height="42" fill="#00ff00"/>
<rect x="796" y="807" width="3" height="36" fill="#00ff00"/>
<rect x="804" y="807" width="3" height="31" fill="#00ff00"/>
<rect x="812" y="807" width="3" height="25" fill="#00ff00"/>
<rect x="820" y="807" width="3" height="17" fill="#00ff00"/>
<rect x="828" y="807" width="3" height="11" fill="#00ff00"/>
<rect x="836" y="807" width="3" height="6" fill="#00ff00"/>
<rect x="844" y="807" width="3" height="7" fill="#00ff00"/>
<rect x="852" y="807" width="3" height="5" fill="#00ff00"/>
<rect x="860" y="807" width="3" height="5" fill="#00ff00"/>
<rect x="868" y="807" width="3" height="5" fill="#00ff00"/>
<rect x="876" y="807" width="3" height="3" fill="#00ff00"/>
<rect x="884" y="807" width="3" height="4" fill="#00ff00"/>
<rect x="892" y="807" width="3" height="4" fill="#00ff00"/>
<rect x="900" y="804" width="3" height="3" fill="#00ff00"/>
<rect x="908" y="800" width="3" height="7" fill="#00ff00"/>
<rect x="916" y="796" width="3" height="11" fill="#00ff00"/>
<rect x="924" y="789" width="3" height="18" fill="#00ff00"/>
<rect x="932" y="784" width="3" height="23" fill="#00ff00"/>
<rect x="940" y="780" width="3" height="27" fill="#00ff00"/>
<rect x="948" y="775" width="3" height="32" fill="#00ff00"/>
<rect x="956" y="774" width="3" height="33" fill="#00ff00"/>
<rect x="964" y="772" width="3" height="35" fill="#00ff00"/>
<rect x="972" y="768" width="3" height="39" fill="#00ff00"/>
<rect x="980" y="766" width="3" height="41" fill="#00ff00"/>
<rect x="988" y="765" width="3" height="42" fill="#00ff00"/>
<rect x="996" y="766" width="3" height="41" fill="#00ff00"/>
<rect x="1004" y="768" width="3" height="39" fill="#00ff00"/>
<rect x="1012" y="771" width="3" height="36" fill="#00ff00"/>
<rect x="1020" y="772" width="3" height="35" fill="#00ff00"/>
<rect x="1028" y="775" width="3" height="32" fill="#00ff00"/>
<rect x="1036" y="778" width="3" height="29" fill="#00ff00"/>
<rect x="1044" y="783" width="3" height="24" fill="#00ff00"/>
<rect x="1052" y="786" width="3" height="21" fill="#00ff00"/>
<rect x="1060" y="787" width="3" height="20" fill="#00ff00"/>
<rect x="1068" y="784" width="3" height="23" fill="#00ff00"/>
<rect x="1076" y="780" width="3" height="27" fill="#00ff00"/>
<rect x="1084" y="776" width="3" height="31" fill="#00ff00"/>
<rect x="1092" y="772" width="3" height="35" fill="#00ff00"/>
<rect x="1100" y="772" width="3" height="35" fill="#00ff00"/>
<rect x="1108" y="774" width="3" height="33" fill="#00ff00"/>
<rect x="1116" y="780" width="3" height="27" fill="#00ff00"/>
<rect x="1124" y="783" width="3" height="24" fill="#00ff00"/>
<rect x="1132" y="790" width="3" height="17" fill="#00ff00"/>
<rect x="1140" y="800" width="3" height="7" fill="#00ff00"/>
<rect x="1148" y="807" width="3" height="4" fill="#00ff00"/>
<rect x="1156" y="807" width="3" height="16" fill="#00ff00"/>
<rect x="1164" y="807" width="3" height="27" fill="#00ff00"/>
<rect x="1172" y="807" width="3" height="36" fill="#00ff00"/>
<rect x="1180" y="807" width="3" height="42" fill="#00ff00"/>
<rect x="1188" y="807" width="3" height="47" fill="#00ff00"/>
<rect x="1196" y="807" width="3" height="50" fill="#00ff00"/>
<rect x="1204" y="807" width="3" height="48" fill="#00ff00"/>
<rect x="1212" y="807" width="3" height="43" fill="#00ff00"/>
<rect x="1220" y="807" width="3" height="37" fill="#00ff00"/>
<rect x="1228" y="807" width="3" height="34" fill="#00ff00"/>
<rect x="1236" y="807" width="3" height="30" fill="#00ff00"/>
<rect x="1244" y="807" width="3" height="28" fill="#00ff00"/>
<rect x="1252" y="807" width="3" height="26" fill="#00ff00"/>
<rect x="1260" y="807" width="3" height="20" fill="#00ff00"/>
<rect x="1268" y="807" width="3" height="15" fill="#00ff00"/>
<rect x="1276" y="807" width="3" height="8" fill="#00ff00"/>
<rect x="1284" y="807" width="3" height="9" fill="#00ff00"/>
<polyline points="5,816.1 13,813.6 21,811.7 29,806.1 37,802.4 45,795.5 53,791.1 61,784.9 69,779.9 77,773.7 85,768.7 93,764.3 101,761.2 109,758.1 117,755.6 125,753.1 133,748.7 141,744.3 149,740.6 157,736.8 165,732.5 173,728.7 181,724.4 189,721.2 197,719.4 205,718.5 213,716.9 221,716.5 229,716.5 237,717.5 245,718.5 253,720.2 261,722.2 269,725 277,730 285,737.2 293,743.7 301,751.8 309,759.9 317,767.4 325,775.5 333,783 341,789.3 349,793.6 357,797.4 365,800.5 373,802.8 381,804 389,804.3 397,803.6 405,803.4 413,802.4 421,801.2 429,801.4 437,802.4 445,803.4 453,804.9 461,806.2 469,806.4 477,806.8 485,808.1 493,808.4 501,809.7 509,809.7 517,809.7 525,810.5 533,813 541,816.2 549,818.7 557,820.5 565,821.4 573,821.4 581,820.2 589,818.4 597,816.2 605,813.5 613,810.6 621,807.7 629,806.2 637,807.2 645,808.9 653,811.4 661,814.9 669,820.2 677,826.2 685,832.2 693,837.2 701,841.8 709,845.5 717,848.4 725,850.1 733,852.4 741,853.9 749,854.3 757,854.3 765,854.3 773,854.3 781,853 789,853 797,851.1 805,850 813,847.1 821,843 829,838.9 837,834.9 845,830.1 853,826.2 861,822.2 869,818 877,815.2 885,813.4 893,812.4 901,811.2 909,809.7 917,807.4 925,804.9 933,801.8 941,798.1 949,794.3 957,790.6 965,786.8 973,783.1 981,778.7 989,775.6 997,772.5 1005,770.6 1013,769.3 1021,769.3 1029,769.3 1037,770.3 1045,771.6 1053,774 1061,776.2 1069,778.1 1077,779.3 1085,780.2 1093,780.2 1101,780.2 1109,779.3 1117,779.3 1125,779.3 1133,779.3 1141,781.2 1149,783.7 1157,788.1 1165,795.6 1173,803.7 1181,811.8 1189,819.9 1197,827.4 1205,834.9 1213,841.1 1221,844.9 1229,847.1 1237,847.4 1245,846.4 1253,844.3 1261,841.1 1269,837.4 1277,833.7 1285,829.5" stroke="#ff0000" stroke-width="2.7" fill="none" shape-rendering="crispEdges" stroke-linejoin="round"/>
<rect x="4" y="701" width="1" height="166" fill="#000"/>
<text x="10" y="714" fill="#000" stroke="#000" stroke-width="0.1" text-anchor="start" letter-spacing="-0.1" font-size="9.6">MACD(12,26,9) -5.32 -15.00</text>
<text x="1632" y="712" fill="#000" stroke="#000" stroke-width="0.1" text-anchor="start" letter-spacing="-0.1" font-size="9.6">69.44</text>
<rect x="1629" y="807" width="2" height="1" fill="#000"/>
<text x="1632" y="811" fill="#000" stroke="#000" stroke-width="0.1" text-anchor="start" letter-spacing="-0.1" font-size="9.6">0.00</text>
<text x="1632" y="863" fill="#000" stroke="#000" stroke-width="0.1" text-anchor="start" letter-spacing="-0.1" font-size="9.6">-39.33</text>
<rect x="5" y="867" width="1" height="3" fill="#000"/>
<text x="4" y="879" fill="#000" stroke="#000" stroke-width="0.1" text-anchor="start" letter-spacing="-0.1" font-size="9.6">4 Jan 2023</text>
<rect x="69" y="867" width="1" height="3" fill="#000"/>
<text x="68" y="879" fill="#000" stroke="#000" stroke-width="0.1" text-anchor="start" letter-spacing="-0.1" font-size="9.6">10 Jan 05:00</text>
<rect x="133" y="867" width="1" height="3" fill="#000"/>
<text x="132" y="879" fill="#000" stroke="#000" stroke-width="0.1" text-anchor="start" letter-spacing="-0.1" font-size="9.6">16 Jan 05:00</text>
<rect x="197" y="867" width="1" height="3" fill="#000"/>
<text x="196" y="879" fill="#000" stroke="#000" stroke-width="0.1" text-anchor="start" letter-spacing="-0.1" font-size="9.6">20 Jan 05:00</text>
<rect x="261" y="867" width="1" height="3" fill="#000"/>
<text x="260" y="879" fill="#000" stroke="#000" stroke-width="0.1" text-anchor="start" letter-spacing="-0.1" font-size="9.6">2 Feb 05:00</text>
<rect x="325" y="867" width="1" height="3" fill="#000"/>
<text x="324" y="879" fill="#000" stroke="#000" stroke-width="0.1" text-anchor="start" letter-spacing="-0.1" font-size="9.6">8 Feb 05:00</text>
<rect x="389" y="867" width="1" height="3" fill="#000"/>
<text x="388" y="879" fill="#000" stroke="#000" stroke-width="0.1" text-anchor="start" letter-spacing="-0.1" font-size="9.6">14 Feb 05:00</text>
<rect x="453" y="867" width="1" height="3" fill="#000"/>
<text x="452" y="879" fill="#000" stroke="#000" stroke-width="0.1" text-anchor="start" letter-spacing="-0.1" font-size="9.6">20 Feb 05:00</text>
<rect x="517" y="867" width="1" height="3" fill="#000"/>
<text x="516" y="879" fill="#000" stroke="#000" stroke-width="0.1" text-anchor="start" letter-spacing="-0.1" font-size="9.6">24 Feb 05:00</text>
<rect x="581" y="867" width="1" height="3" fill="#000"/>
<text x="580" y="879" fill="#000" stroke="#000" stroke-width="0.1" text-anchor="start" letter-spacing="-0.1" font-size="9.6">2 Mar 05:00</text>
<rect x="645" y="867" width="1" height="3" fill="#000"/>
<text x="644" y="879" fill="#000" stroke="#000" stroke-width="0.1" text-anchor="start" letter-spacing="-0.1" font-size="9.6">8 Mar 05:00</text>
<rect x="709" y="867" width="1" height="3" fill="#000"/>
<text x="708" y="879" fill="#000" stroke="#000" stroke-width="0.1" text-anchor="start" letter-spacing="-0.1" font-size="9.6">14 Mar 05:00</text>
<rect x="773" y="867" width="1" height="3" fill="#000"/>
<text x="772" y="879" fill="#000" stroke="#000" stroke-width="0.1" text-anchor="start" letter-spacing="-0.1" font-size="9.6">20 Mar 05:00</text>
<rect x="837" y="867" width="1" height="3" fill="#000"/>
<text x="836" y="879" fill="#000" stroke="#000" stroke-width="0.1" text-anchor="start" letter-spacing="-0.1" font-size="9.6">24 Mar 05:00</text>
<rect x="901" y="867" width="1" height="3" fill="#000"/>
<text x="900" y="879" fill="#000" stroke="#000" stroke-width="0.1" text-anchor="start" letter-spacing="-0.1" font-size="9.6">30 Mar 05:00</text>
<rect x="965" y="867" width="1" height="3" fill="#000"/>
<text x="964" y="879" fill="#000" stroke="#000" stroke-width="0.1" text-anchor="start" letter-spacing="-0.1" font-size="9.6">6 Apr 05:00</text>
<rect x="1029" y="867" width="1" height="3" fill="#000"/>
<text x="1028" y="879" fill="#000" stroke="#000" stroke-width="0.1" text-anchor="start" letter-spacing="-0.1" font-size="9.6">12 Apr 05:00</text>
<rect x="1093" y="867" width="1" height="3" fill="#000"/>
<text x="1092" y="879" fill="#000" stroke="#000" stroke-width="0.1" text-anchor="start" letter-spacing="-0.1" font-size="9.6">18 Apr 05:00</text>
<rect x="1157" y="867" width="1" height="3" fill="#000"/>
<text x="1156" y="879" fill="#000" stroke="#000" stroke-width="0.1" text-anchor="start" letter-spacing="-0.1" font-size="9.6">24 Apr 05:00</text>
<rect x="1221" y="867" width="1" height="3" fill="#000"/>
<text x="1220" y="879" fill="#000" stroke="#000" stroke-width="0.1" text-anchor="start" letter-spacing="-0.1" font-size="9.6">28 Apr 05:00</text>
<rect x="1285" y="867" width="1" height="3" fill="#000"/>
<text x="1284" y="879" fill="#000" stroke="#000" stroke-width="0.1" text-anchor="start" letter-spacing="-0.1" font-size="9.6">9 May 05:00</text>
</svg>
</body></html>
